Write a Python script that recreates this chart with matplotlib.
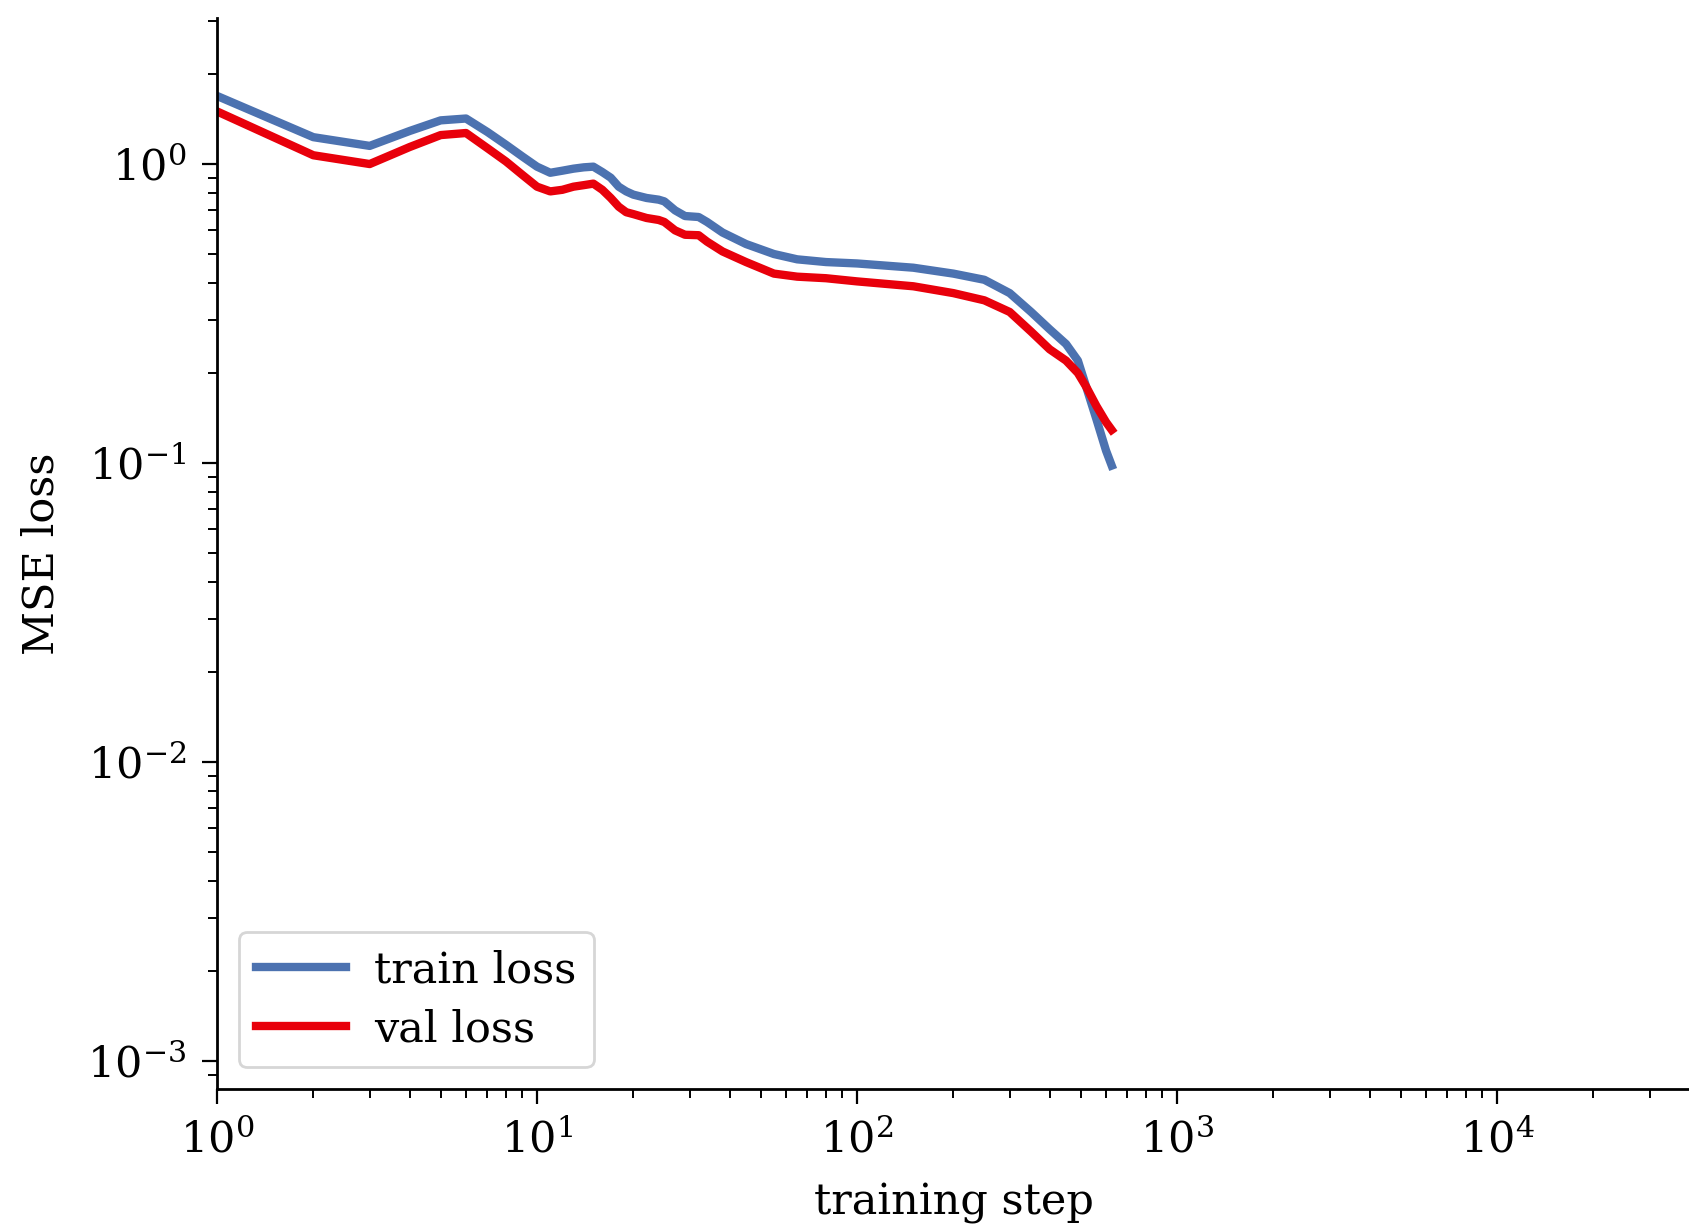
import matplotlib
matplotlib.use("Agg")
import matplotlib.pyplot as plt
import numpy as np

# training steps at which losses were read
steps = [1, 2, 3, 4, 5, 6, 7, 8, 9, 10, 11, 12, 13, 14, 15, 16, 17, 18, 19, 20,
         22, 24, 25, 27, 29, 32, 34, 38, 45, 55, 65, 80, 100, 150, 200, 250,
         300, 350, 400, 450, 490, 520, 560, 600, 625]
train_loss = [1.69, 1.23, 1.15, 1.29, 1.40, 1.42, 1.28, 1.16, 1.06, 0.98, 0.935, 0.95,
              0.965, 0.975, 0.98, 0.94, 0.90, 0.84, 0.81, 0.79,
              0.77, 0.76, 0.75, 0.70, 0.67, 0.665, 0.64, 0.59, 0.54, 0.50, 0.48, 0.47,
              0.465, 0.45, 0.43, 0.41, 0.37, 0.32, 0.28, 0.25, 0.22, 0.18, 0.14, 0.11, 0.098]
val_loss = [1.50, 1.07, 1.00, 1.14, 1.25, 1.27, 1.13, 1.02, 0.92, 0.84, 0.81, 0.82,
            0.84, 0.85, 0.86, 0.82, 0.77, 0.72, 0.69, 0.68,
            0.66, 0.65, 0.64, 0.60, 0.58, 0.578, 0.55, 0.51, 0.47, 0.43, 0.42, 0.415,
            0.405, 0.39, 0.37, 0.35, 0.32, 0.275, 0.24, 0.22, 0.20, 0.18, 0.155, 0.137, 0.129]

labels = ["train loss", "val loss"]
colors = ["#4C72B0", "#E8000B"]

plt.rcParams.update({
    "font.family": ["DejaVu Serif"],
    "mathtext.fontset": "dejavuserif",
    "font.size": 31,
})

fig = plt.figure(figsize=(16.9, 12.26), dpi=100)
ax = fig.add_axes([217 / 1690, 1 - 1089 / 1226, 1 - 217 / 1690, (1089 - 18) / 1226])

ax.plot(steps, train_loss, color=colors[0], lw=6, label=labels[0])
ax.plot(steps, val_loss, color=colors[1], lw=6, label=labels[1])

ax.set_xscale("log")
ax.set_yscale("log")
ax.set_xlim(1, 10 ** 4.603)
ax.set_ylim(8.05e-4, 3.08)

ax.spines["top"].set_visible(False)
ax.spines["right"].set_visible(False)
for s in ("left", "bottom"):
    ax.spines[s].set_linewidth(2.0)

ax.tick_params(which="major", length=11, width=1.6, pad=11, labelsize=31)
ax.tick_params(which="minor", length=6.5, width=1.4)

ax.set_xlabel("training step", fontsize=31, labelpad=15)
ax.set_ylabel("MSE loss", fontsize=31, labelpad=18)

leg = ax.legend(loc="lower left", fontsize=31, frameon=True, fancybox=True,
                framealpha=0.8, edgecolor="#cccccc", handlelength=2.1,
                borderaxespad=0.5, borderpad=0.4, handletextpad=0.65,
                labelspacing=0.4)
leg.get_frame().set_linewidth(2.0)

fig.savefig("out.png", dpi=100)
